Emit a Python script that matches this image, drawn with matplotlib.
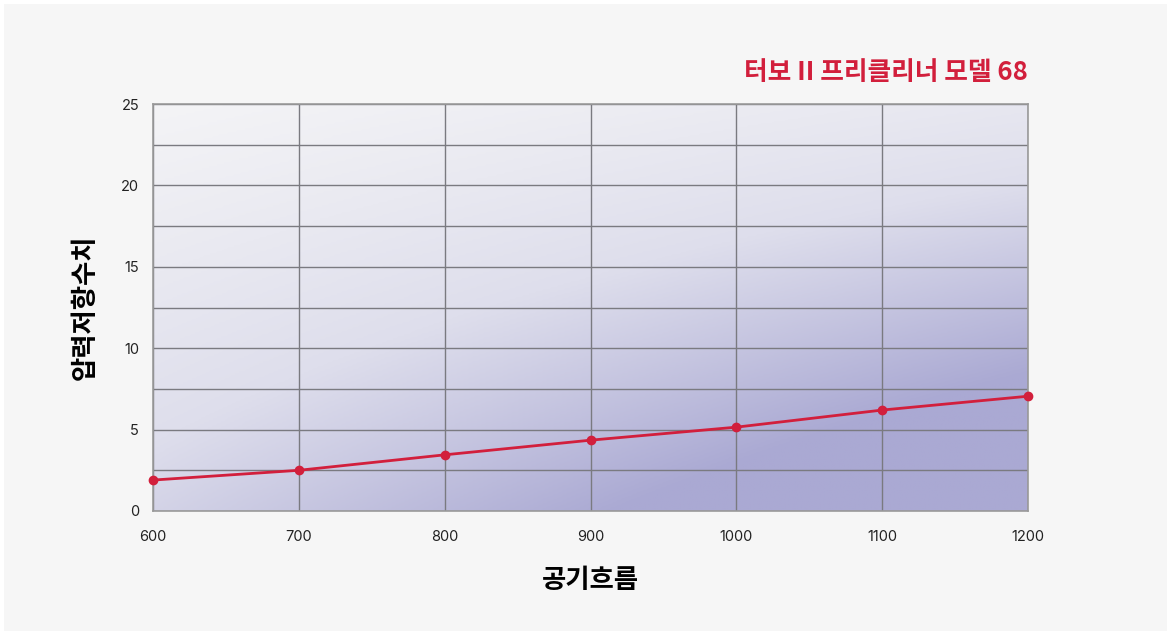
import numpy as np
import matplotlib
matplotlib.use("Agg")
import matplotlib.pyplot as plt
from matplotlib.colors import LinearSegmentedColormap
from matplotlib.patches import Rectangle

plt.rcParams['font.family'] = ['Inter', 'Noto Sans CJK KR', 'DejaVu Sans']

# data
airflow = [600, 700, 800, 900, 1000, 1100, 1200]
resistance = [1.9, 2.5, 3.45, 4.35, 5.15, 6.2, 7.05]
x_ticks = [600, 700, 800, 900, 1000, 1100, 1200]
y_ticks = [0, 5, 10, 15, 20, 25]

title = "터보 II 프리클리너 모델 68"
xlabel = "공기흐름"
ylabel = "압력저항수치"

red = "#d21f3c"
kr = ['Noto Sans CJK KR', 'DejaVu Sans']

fig = plt.figure(figsize=(11.71, 6.35), dpi=100, facecolor="white")
bg = Rectangle((4 / 1171, 4 / 635), 1163 / 1171, 627 / 635,
               transform=fig.transFigure, facecolor="#f6f6f6",
               edgecolor="none", zorder=-10)
fig.add_artist(bg)

ax = fig.add_axes([153 / 1171, 1 - 511 / 635, 875 / 1171, 407 / 635])

# diagonal background gradient, light at top-left, lavender at bottom-right
cmap = LinearSegmentedColormap.from_list("bg", ["#f4f4f6", "#dedeec", "#aaa9d3"])
u = np.linspace(0, 1, 400)[None, :]
v = np.linspace(0, 1, 200)[:, None]  # 0 at top
t = np.clip(0.3 * u + 0.6 * v + 0.45 * u * v, 0, 1)
ax.imshow(t, cmap=cmap, vmin=0, vmax=1, extent=(600, 1200, 0, 25),
          origin="upper", aspect="auto", zorder=0, interpolation="bilinear")
ax.set_xlim(600, 1200)
ax.set_ylim(0, 25)

ax.set_xticks(x_ticks)
ax.set_yticks(y_ticks)
ax.set_yticks(np.arange(2.5, 25, 5), minor=True)
ax.grid(True, which="both", color="#7a7a80", linewidth=1.0, zorder=1)
ax.tick_params(which="both", length=0)
ax.tick_params(axis="y", pad=10, labelsize=10.5, labelcolor="#222222")
ax.tick_params(axis="x", pad=14, labelsize=10.5, labelcolor="#222222")
for s in ax.spines.values():
    s.set_color("#9a9a9a")
    s.set_linewidth(1.2)

ax.plot(airflow, resistance, color=red, linewidth=2, marker="o",
        markersize=6, zorder=3, clip_on=False)

ax.set_xlabel(xlabel, fontsize=19, fontweight="bold", labelpad=16, family=kr)
ax.set_ylabel(ylabel, fontsize=19, fontweight="bold", labelpad=16, family=kr)

fig.text(1028 / 1171, 1 - 72 / 635, title, ha="right", va="center",
         fontsize=18.5, fontweight="heavy", color=red, family=kr)

fig.savefig("out.png", dpi=100, facecolor=fig.get_facecolor())
